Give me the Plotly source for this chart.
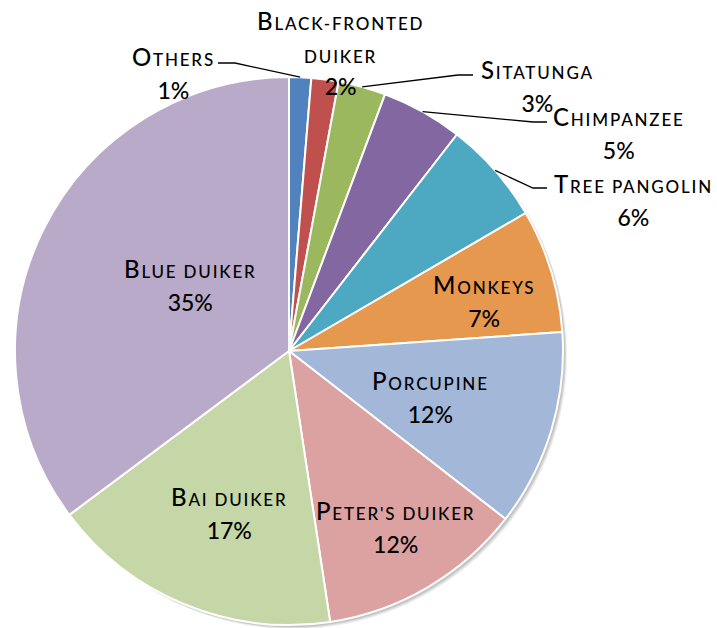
import plotly.graph_objects as go
import math

# Share of each species group (percent of total)
species = ["Others", "Black-fronted duiker", "Sitatunga", "Chimpanzee",
           "Tree pangolin", "Monkeys", "Porcupine", "Peter's duiker",
           "Bai duiker", "Blue duiker"]
shares = [1.3, 1.6, 2.8, 4.8, 6.1, 7.3, 11.6, 12.1, 17.2, 35.2]
colors = ["#5182BD", "#C0504D", "#9CB85E", "#8267A1", "#4DA9C2",
          "#E6984E", "#A3B7D9", "#DCA2A2", "#C5D6A7", "#B9AAC9"]

# Label text lines as shown on the chart
label_lines = {
    "Black-fronted duiker": ["Black-fronted", "duiker"],
}

W, H = 717, 628
CX, CY, R = 289, 351, 274   # pie centre and radius in page pixels

FONT = "Lato"
CAP_SIZE = 24     # capital letters
SMALL_SIZE = 17   # small-capital letters
NUM_SIZE = 23     # percentages
TRACKING = 1.8    # letter spacing in px


def px(x):
    return x / W


def py(y):
    return 1 - y / H


def rim(angle_deg, r=R):
    a = math.radians(angle_deg)
    return CX + r * math.sin(a), CY - r * math.cos(a)


def span(txt, size):
    return (f"<span style='font-size:{size}px;letter-spacing:{TRACKING}px'>"
            f"{txt}</span>")


def small_caps(s):
    """Render text in small capitals using sized spans."""
    out, run = [], ""
    for ch in s:
        if ch.isupper():
            if run:
                out.append(span(run.upper(), SMALL_SIZE))
                run = ""
            out.append(span(ch, CAP_SIZE))
        else:
            run += ch
    if run:
        out.append(span(run.upper(), SMALL_SIZE))
    return "".join(out)


total = sum(shares)
mid_angles = []
acc = 0.0
for v in shares:
    mid_angles.append((acc + v / 2) / total * 360)
    acc += v

fig = go.Figure()

fig.add_trace(go.Pie(
    labels=species,
    values=shares,
    sort=False,
    direction="clockwise",
    rotation=0,
    marker=dict(colors=colors, line=dict(color="white", width=2)),
    textinfo="none",
    hoverinfo="label+percent",
    showlegend=False,
    domain=dict(x=[px(CX - R), px(CX + R)], y=[py(CY + R), py(CY - R)]),
))

# Soft drop shadow behind the pie
shapes = []
for off, op in [(4, 0.18), (3, 0.25), (2, 0.35)]:
    shapes.append(dict(
        type="circle", xref="paper", yref="paper", layer="below",
        x0=px(CX - R + off), x1=px(CX + R + off),
        y0=py(CY + R + off), y1=py(CY - R + off),
        fillcolor="#9a9a9a", opacity=op, line=dict(width=0),
    ))

# Label placement (text centre) and leader-line elbows for the outer labels
label_pos = {
    "Others": (173, 73),
    "Black-fronted duiker": (340, 53),
    "Sitatunga": (537, 86),
    "Chimpanzee": (619, 133),
    "Tree pangolin": (633, 200),
    "Monkeys": (484, 301),
    "Porcupine": (430, 397),
    "Peter's duiker": (395, 527),
    "Bai duiker": (229, 513),
    "Blue duiker": (190, 285),
}
leaders = {
    "Others": [(235, 63), (218, 63)],
    "Sitatunga": [(458, 75), (473, 75)],
    "Chimpanzee": [(533, 122), (547, 122)],
    "Tree pangolin": [(533, 188), (547, 188)],
}

for name, ang in zip(species, mid_angles):
    if name in leaders:
        pts = [rim(ang)] + leaders[name]
        path = "M " + " L ".join(f"{px(x)},{py(y)}" for x, y in pts)
        shapes.append(dict(type="path", xref="paper", yref="paper",
                           path=path, line=dict(color="black", width=1.3)))

annotations = []
for name, v in zip(species, shares):
    pct = round(v / total * 100)
    lines = [small_caps(t) for t in label_lines.get(name, [name])]
    lines.append(f"<span style='font-size:{NUM_SIZE}px'>{pct}%</span>")
    x, y = label_pos[name]
    annotations.append(dict(
        x=px(x), y=py(y), xref="paper", yref="paper",
        text="<br>".join(lines), showarrow=False,
        xanchor="center", yanchor="middle", align="center",
        font=dict(family=FONT, size=CAP_SIZE + 1, color="black", weight=500),
    ))

fig.update_layout(
    width=W, height=H,
    margin=dict(l=0, r=0, t=0, b=0),
    paper_bgcolor="white",
    plot_bgcolor="white",
    shapes=shapes,
    annotations=annotations,
)

fig.write_html("out.html")
